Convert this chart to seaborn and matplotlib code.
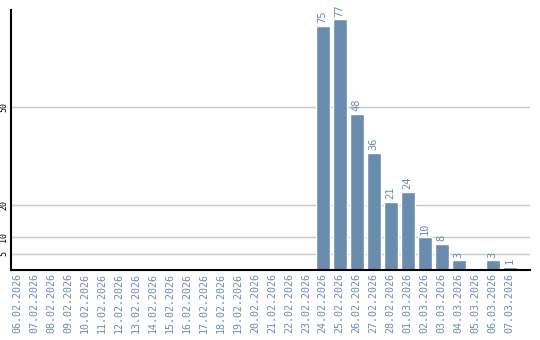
import matplotlib
matplotlib.use("Agg")
import matplotlib.pyplot as plt
import seaborn as sns
import pandas as pd

dates = ["06.02.2026", "07.02.2026", "08.02.2026", "09.02.2026", "10.02.2026",
         "11.02.2026", "12.02.2026", "13.02.2026", "14.02.2026", "15.02.2026",
         "16.02.2026", "17.02.2026", "18.02.2026", "19.02.2026", "20.02.2026",
         "21.02.2026", "22.02.2026", "23.02.2026", "24.02.2026", "25.02.2026",
         "26.02.2026", "27.02.2026", "28.02.2026", "01.03.2026", "02.03.2026",
         "03.03.2026", "04.03.2026", "05.03.2026", "06.03.2026", "07.03.2026"]
values = [0, 0, 0, 0, 0, 0, 0, 0, 0, 0, 0, 0, 0, 0, 0, 0, 0, 0,
          75, 77, 48, 36, 21, 24, 10, 8, 3, 0, 3, 1]
yticks = [5, 10, 20, 50]

BAR = "#6a8caf"
sns.set_style("white")
plt.rcParams["font.family"] = ["DejaVu Sans Mono", "DejaVu Sans"]

df = pd.DataFrame({"date": dates, "value": values})
fig = plt.figure(figsize=(5.4, 3.4), dpi=100)
ax = fig.add_axes([11/540, 70/340, 519/540, 260/340])
sns.barplot(data=df, x="date", y="value", color=BAR, saturation=1, width=0.82, ax=ax)

for i, v in enumerate(values):
    if v > 0:
        ax.text(i, v + 0.8, str(v), rotation=90, ha="center", va="bottom",
                color=BAR, fontsize=7.5)

ax.set_ylim(0, 79.8)
ax.set_xlim(-0.35, len(dates) - 1 + 1.2)
ax.set_yticks(yticks)
ax.set_yticklabels([str(t) for t in yticks], rotation=90, va="center", fontsize=6, color="black")
ax.set_xticks(range(len(dates)))
ax.set_xticklabels(dates, rotation=90, fontsize=7.2, color=BAR)
ax.tick_params(axis="both", length=0, pad=2)
for t in yticks:
    ax.axhline(t, color="#c8c8c8", lw=1, zorder=0)
ax.set_axisbelow(True)
ax.set_xlabel("")
ax.set_ylabel("")
for s in ["top", "right"]:
    ax.spines[s].set_visible(False)
for s in ["left", "bottom"]:
    ax.spines[s].set_color("black")
    ax.spines[s].set_linewidth(1.5)

fig.savefig("out.png", dpi=100)
